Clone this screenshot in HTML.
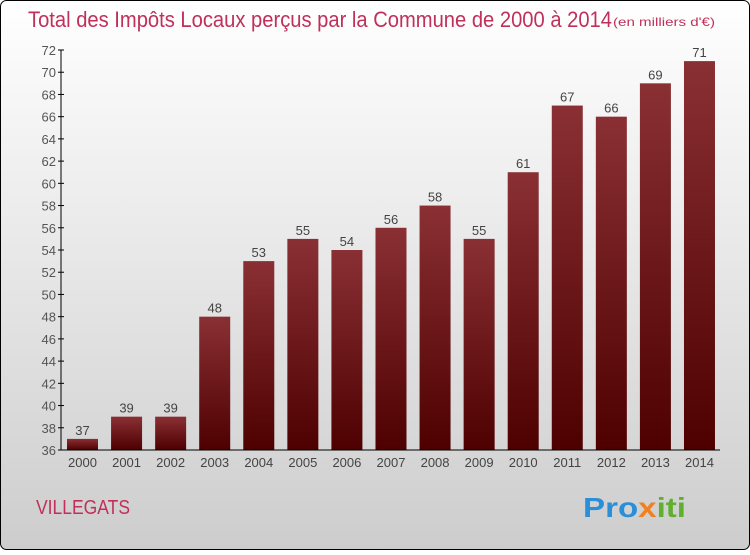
<!DOCTYPE html>
<html><head><meta charset="utf-8"><style>
body{margin:0}
svg text{font-family:"Liberation Sans",sans-serif}
</style></head><body>
<svg id="c" width="750" height="550" xmlns="http://www.w3.org/2000/svg">
<defs>
<linearGradient id="bg" x1="0" y1="0" x2="0" y2="1"><stop offset="0" stop-color="#ffffff"/><stop offset="1" stop-color="#cdcdcd"/></linearGradient>
<linearGradient id="bar" x1="0" y1="0" x2="0" y2="1"><stop offset="0" stop-color="#8a3034"/><stop offset="1" stop-color="#4e0000"/></linearGradient>
</defs>
<rect x="0.5" y="0.5" width="749" height="549" rx="6" fill="url(#bg)" stroke="#000"/>
<text x="28" y="27" font-size="22" fill="#c0305a" textLength="584" lengthAdjust="spacingAndGlyphs">Total des Impôts Locaux perçus par la Commune de 2000 à 2014</text>
<text x="613" y="26" font-size="12" fill="#c0305a" textLength="102" lengthAdjust="spacingAndGlyphs">(en milliers d'€)</text>
<text x="36" y="514" font-size="20" fill="#c0305a" textLength="94" lengthAdjust="spacingAndGlyphs">VILLEGATS</text>
<text x="583" y="517" font-size="28" font-weight="bold" fill="#2a8fd8" textLength="103" lengthAdjust="spacingAndGlyphs">Pro<tspan fill="#f08020">x</tspan><tspan fill="#60b030">iti</tspan></text>
<g id="g"></g>
</svg>
<script>
const years=["2000","2001","2002","2003","2004","2005","2006","2007","2008","2009","2010","2011","2012","2013","2014"];
const values=[37,39,39,48,53,55,54,56,58,55,61,67,66,69,71];
const yTicks=[36,38,40,42,44,46,48,50,52,54,56,58,60,62,64,66,68,70,72];
const ns="http://www.w3.org/2000/svg";
const g=document.getElementById('g');
const y=v=>450-(v-36)*400/36;
const x=i=>67+i*44.07;
function mk(t,a){const e=document.createElementNS(ns,t);for(const k in a)e.setAttribute(k,a[k]);g.appendChild(e);return e;}
yTicks.forEach(t=>{
 const l=mk('line',{x1:58,x2:64,y1:y(t),y2:y(t),stroke:'#000'});
 
 
 const tx=mk('text',{x:56,y:y(t)+5,'font-size':13,fill:'#555','text-anchor':'end'});
 tx.textContent=t;
 
 
});
values.forEach((v,i)=>{
 const r=mk('rect',{x:x(i),y:y(v),width:31,height:450-y(v),fill:'url(#bar)'});
 
 
 const lb=mk('text',{x:x(i)+15.5,y:y(v)-4,'font-size':13,fill:'#444','text-anchor':'middle'});
 lb.textContent=v;
 
 
 const xl=mk('text',{x:x(i)+15.5,y:467,'font-size':13,fill:'#444','text-anchor':'middle'});
 xl.textContent=years[i];
 
 
});
const ya=mk('line',{x1:61,x2:61,y1:50,y2:450,stroke:'#000'});


const xa=mk('line',{x1:61,x2:720,y1:450,y2:450,stroke:'#000'});


</script>
</body></html>
